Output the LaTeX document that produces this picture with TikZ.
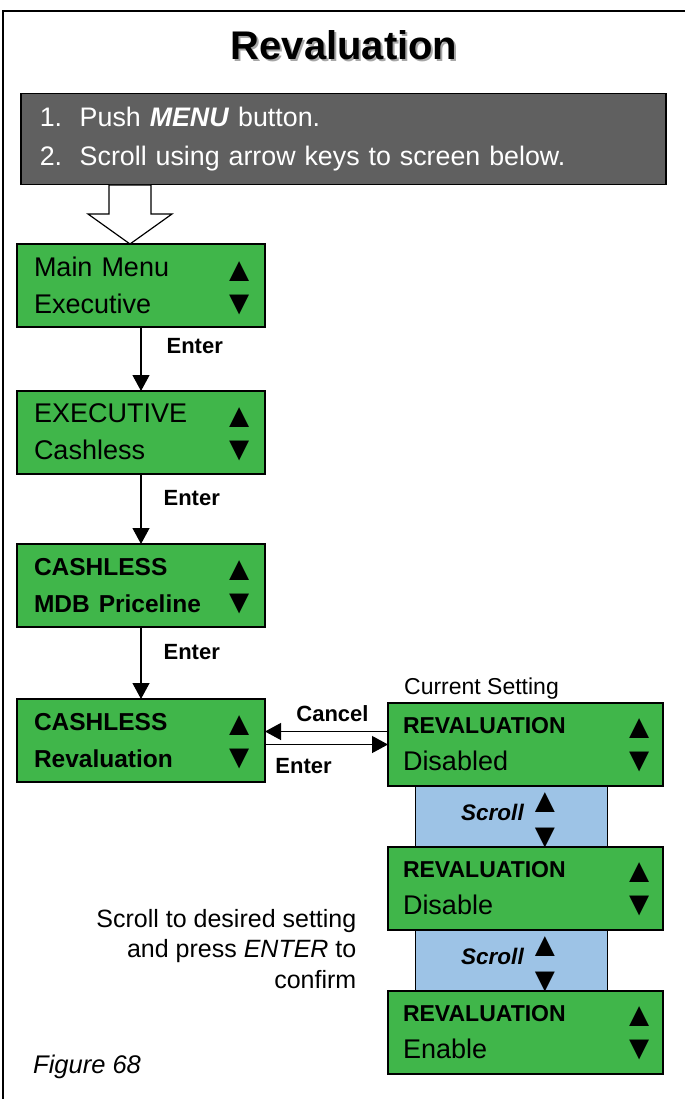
\documentclass[tikz,border=0pt]{standalone}
\usepackage{fontspec}
\setmainfont{Liberation Sans}
\usetikzlibrary{arrows.meta, positioning}
\definecolor{lcdgreen}{RGB}{64,182,74}
\definecolor{scrollblue}{RGB}{157,195,230}
\definecolor{panelgray}{RGB}{96,96,96}
\newcommand{\upkey}{{\mdseries\upshape\fontsize{34}{34}\selectfont\smash{▲}}}
\newcommand{\downkey}{{\mdseries\upshape\fontsize{34}{34}\selectfont\smash{▼}}}
\newcommand{\keys}[2]{#1\hfill\raisebox{-5pt}{\upkey}\kern-8pt\\#2\hfill\raisebox{-1pt}{\downkey}\kern-8pt}
\newcommand{\bline}[1]{{\fontsize{24.5}{37}\selectfont\bfseries #1}}
\newcommand{\rline}[1]{{\fontsize{23}{37}\selectfont\bfseries #1}}
\newcommand{\scrolltext}{\raisebox{8pt}{\textbf{\textit{Scroll}}}\hspace{4pt}\smash{\raisebox{0pt}{\begin{tabular}{@{}c@{}}\upkey\\[3pt]\downkey\end{tabular}}}}

\begin{document}
\begin{tikzpicture}[x=1pt, y=1pt,
    screen/.style={rectangle, draw, line width=1.5pt, fill=lcdgreen, outer sep=0pt, minimum width=248pt, minimum height=83pt, text width=214pt, inner xsep=17pt, inner ysep=0pt, align=left, font=\fontsize{27}{37}\selectfont},
    setting/.style={screen, minimum width=275pt, text width=245pt, inner xsep=15pt},
    scroller/.style={rectangle, draw, line width=1.5pt, fill=scrollblue, outer sep=0pt, inner sep=0pt, minimum width=192pt, minimum height=61pt, font=\fontsize{22.5}{32}\selectfont},
    keylabel/.style={inner sep=0pt, font=\fontsize{22}{26}\selectfont\bfseries},
    arrow/.style={-{Triangle[length=16pt, width=17pt]}, line width=1.2pt},
]
\useasboundingbox (0,0) rectangle (685,-1099);
\draw[line width=1.5pt] (3,-1099) -- (3,-11) -- (685,-11);

% Title
\node[text=black!35, font=\fontsize{40}{44}\selectfont\bfseries] (titleshadow) at (346,-47) {Revaluation};
\node[font=\fontsize{40}{44}\selectfont\bfseries] (title) at (344,-45) {Revaluation};

% Instructions
\node[rectangle, draw, line width=1.5pt, fill=panelgray, anchor=north west, minimum width=645pt, minimum height=91pt, text width=607pt, inner xsep=19pt, align=left, text=white, font=\fontsize{26.8}{39}\selectfont] (steps) at (20,-93) {\makebox[40pt][l]{1.}Push \textbf{\textit{MENU}} button.\\\makebox[40pt][l]{2.}Scroll using arrow keys to screen below.};

% Screens
\node[screen, anchor=north west] (mainmenu) at (17,-244) {\keys{Main Menu}{Executive}};
\node[screen, below=64pt of mainmenu] (executive) {\keys{EXECUTIVE}{Cashless}};
\node[screen, below=70pt of executive] (cashless) {\keys{\bline{CASHLESS}}{\bline{MDB Priceline}}};
\node[screen, below=72pt of cashless] (cashrev) {\keys{\bline{CASHLESS}}{\bline{Revaluation}}};

% Settings
\node[setting, right=123pt of cashrev, yshift=-4pt] (revdisabled) {\keys{\rline{REVALUATION}}{Disabled}};
\node[scroller, below=0pt of revdisabled, xshift=-14pt] (scrollone) {\scrolltext};
\node[setting, below=0pt of scrollone, xshift=14pt] (revdisable) {\keys{\rline{REVALUATION}}{Disable}};
\node[scroller, below=0pt of revdisable, xshift=-14pt] (scrolltwo) {\scrolltext};
\node[setting, below=0pt of scrolltwo, xshift=14pt] (revenable) {\keys{\rline{REVALUATION}}{Enable}};

% Notes
\node[above=4pt of revdisabled, xshift=-44pt, inner sep=0pt, font=\fontsize{23}{27}\selectfont] (curset) {Current Setting};
\node[left=59pt of scrolltwo, yshift=11.5pt, inner sep=0pt, align=right, font=\fontsize{25}{30.5}\selectfont] (hint) {Scroll to desired setting\\and press \textit{ENTER} to\\confirm};
\node[anchor=base west, inner sep=0pt, font=\fontsize{25.5}{30}\selectfont\itshape] (figlabel) at (33,-1073) {Figure 68};

% Arrows
\coordinate (tip) at ([xshift=-11pt]mainmenu.north);
\draw[line width=1.2pt, fill=white] (tip) -- ++(-42,30) -- ++(21,0) -- ++(0,29) -- ++(42,0) -- ++(0,-29) -- ++(21,0) -- cycle;
\draw[arrow] (mainmenu) -- node[keylabel, pos=0.3, right=25pt] {Enter} (executive);
\draw[arrow] (executive) -- node[keylabel, pos=0.35, right=22pt] {Enter} (cashless);
\draw[arrow] (cashless) -- node[keylabel, pos=0.35, right=22pt] {Enter} (cashrev);
\draw[arrow] ([yshift=9pt]cashrev.east -| revdisabled.west) -- node[keylabel, above=9pt, xshift=6pt] {Cancel} ([yshift=9pt]cashrev.east);
\draw[arrow] ([yshift=-4pt]cashrev.east) -- node[keylabel, below=13pt, xshift=-23pt] {Enter} ([yshift=-4pt]cashrev.east -| revdisabled.west);

\end{tikzpicture}
\end{document}
